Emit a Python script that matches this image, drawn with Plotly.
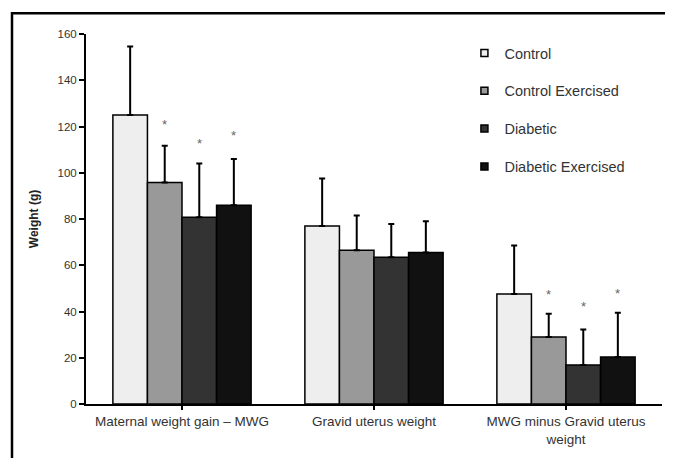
import plotly.graph_objects as go

categories = ["Maternal weight gain – MWG", "Gravid uterus weight", "MWG minus Gravid uterus<br>weight"]
series_names = ["Control", "Control Exercised", "Diabetic", "Diabetic Exercised"]
means = {
    "Control": [125, 77, 47.6],
    "Control Exercised": [95.8, 66.5, 29],
    "Diabetic": [80.8, 63.5, 16.9],
    "Diabetic Exercised": [86, 65.5, 20.3],
}
err_tops = {
    "Control": [154.6, 97.5, 68.5],
    "Control Exercised": [111.7, 81.5, 39],
    "Diabetic": [104, 77.8, 32.2],
    "Diabetic Exercised": [106, 79, 39.5],
}
# asterisk positions (value on y axis), None = no asterisk
asterisks = {
    "Control": [None, None, None],
    "Control Exercised": [122, None, 48.8],
    "Diabetic": [114, None, 43.3],
    "Diabetic Exercised": [117.5, None, 48.9],
}
colors = ["#eeeeee", "#999999", "#333333", "#111111"]
y_ticks = [0, 20, 40, 60, 80, 100, 120, 140, 160]

FONT = "Liberation Sans, Arial, sans-serif"
# page body has an 8px margin; compensate so plot lands where the reference has it
W, H = 665, 450
ml, mr, mt, mb = 78, 11, 26, 51
plot_w = W - ml - mr
plot_h = H - mt - mb
bargap = 0.28
bar_px = plot_w / len(categories) * (1 - bargap) / len(series_names)

fig = go.Figure()
for i, name in enumerate(series_names):
    m = means[name]
    e = [t - v for t, v in zip(err_tops[name], m)]
    fig.add_trace(go.Bar(
        name=name, x=categories, y=m,
        marker=dict(color=colors[i], line=dict(color="black", width=1.5)),
        error_y=dict(type="data", array=e, arrayminus=[0] * len(e), symmetric=False,
                     color="black", thickness=2, width=3),
        showlegend=False,
    ))
    # legend entry with a small square swatch
    fig.add_trace(go.Scatter(
        name=name, x=[None], y=[None], mode="markers",
        marker=dict(symbol="square", size=7, color=colors[i],
                    line=dict(color="black", width=1.5)),
        legendgroup=name, showlegend=True,
    ))
    for j, a in enumerate(asterisks[name]):
        if a is not None:
            fig.add_annotation(x=categories[j], y=a, text="*", showarrow=False,
                               xshift=(i - 1.5) * bar_px, yshift=-3,
                               font=dict(family=FONT, size=13, color="#666666"))

# outer frame
fig.add_shape(type="rect", xref="paper", yref="paper",
              x0=(4 - ml) / plot_w, x1=(W + 20 - ml) / plot_w,
              y0=-(mb + 30) / plot_h, y1=1 + (mt - 5) / plot_h,
              line=dict(color="black", width=2.5), layer="above")

fig.update_layout(
    width=W, height=H,
    margin=dict(l=ml, r=mr, t=mt, b=mb),
    paper_bgcolor="white", plot_bgcolor="white",
    barmode="group", bargap=bargap, bargroupgap=0,
    font=dict(family=FONT, color="#333333", size=12),
    showlegend=True,
    legend=dict(x=0.657, y=0.992, xanchor="left", yanchor="top",
                font=dict(size=14.5, color="#333333"),
                tracegroupgap=16, traceorder="grouped", itemwidth=30,
                bgcolor="rgba(0,0,0,0)"),
    xaxis=dict(showline=True, linecolor="black", linewidth=2,
               ticks="outside", ticklen=4, tickcolor="black", tickwidth=1.5,
               tickfont=dict(size=13.5, color="#333333"), showgrid=False),
    yaxis=dict(range=[0, 160], tickvals=y_ticks, showline=True, linecolor="black",
               linewidth=2, ticks="outside", ticklen=5, tickcolor="black", tickwidth=1.5,
               tickfont=dict(size=11.5, color="#333333"), showgrid=False, zeroline=False,
               title=dict(text="<b>Weight (g)</b>", font=dict(size=12, color="#222222"),
                          standoff=16)),
)

fig.write_html("out.html")
